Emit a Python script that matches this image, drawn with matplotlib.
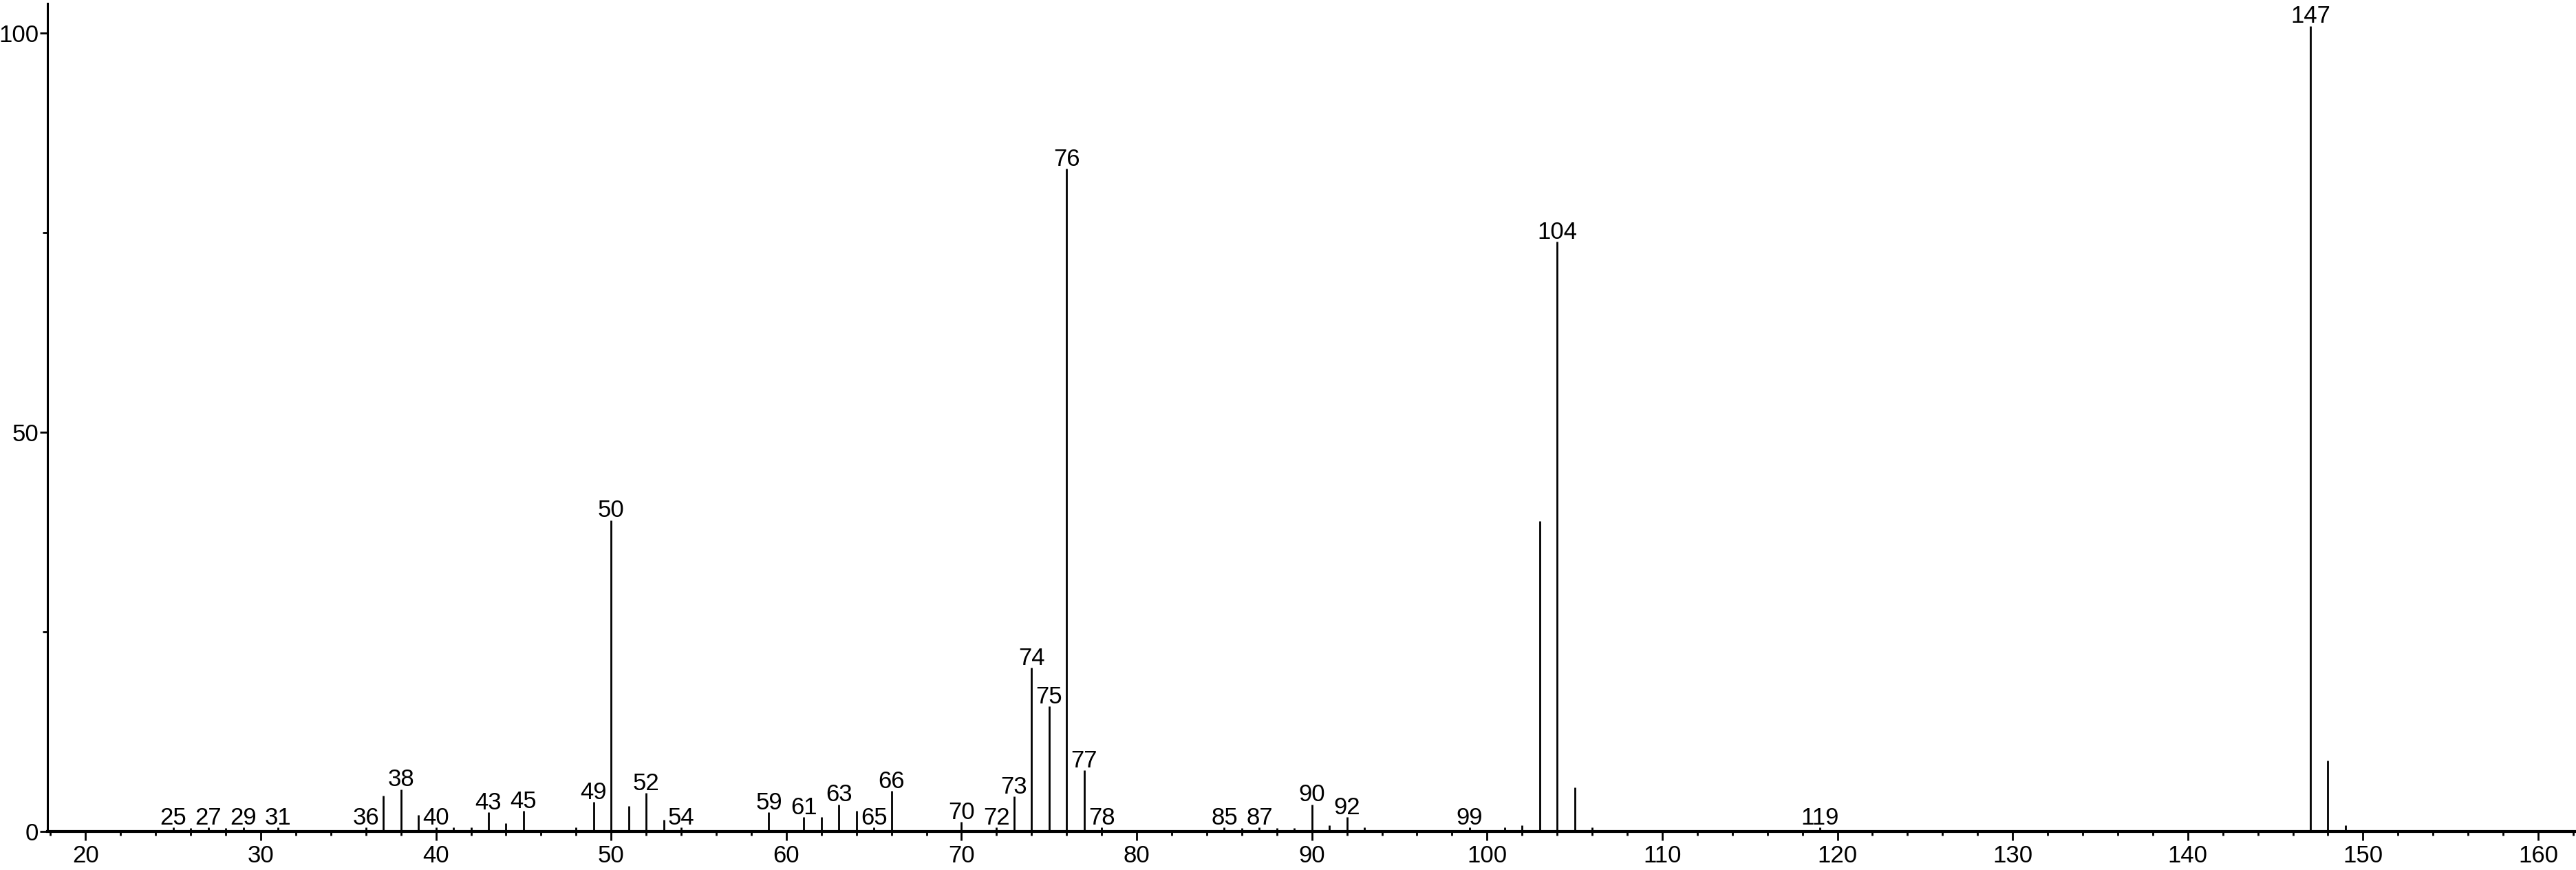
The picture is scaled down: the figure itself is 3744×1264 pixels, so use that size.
import matplotlib
matplotlib.use("Agg")
import matplotlib.pyplot as plt
from matplotlib.ticker import MultipleLocator, FixedLocator

plt.rcParams['font.family'] = ['Liberation Sans', 'DejaVu Sans']

# m/z values and relative intensities
mz = [25, 26, 27, 28, 29, 31, 36, 37, 38, 39, 40, 41, 42, 43, 44, 45, 48, 49, 50, 51,
      52, 53, 54, 59, 61, 62, 63, 64, 65, 66, 70, 72, 73, 74, 75, 76, 77, 78, 85, 86,
      87, 88, 89, 90, 91, 92, 93, 99, 101, 102, 103, 104, 105, 106, 119, 147, 148, 149]
intensity = [0.5, 0.4, 0.5, 0.4, 0.5, 0.5, 0.5, 4.5, 5.3, 2.1, 0.5, 0.5, 0.5, 2.4, 1.0, 2.6, 0.5, 3.7, 39.0, 3.2,
             4.8, 1.5, 0.5, 2.4, 1.8, 1.8, 3.4, 2.6, 0.5, 5.1, 1.2, 0.5, 4.4, 20.5, 15.7, 83.0, 7.7, 0.5, 0.5, 0.4,
             0.5, 0.4, 0.4, 3.4, 0.8, 1.8, 0.5, 0.5, 0.5, 0.8, 38.9, 73.9, 5.5, 0.5, 0.5, 100.9, 8.9, 0.8]

# peaks that carry an m/z label
labeled = [25, 27, 29, 31, 36, 38, 40, 43, 45, 49, 50, 52, 54, 59, 61, 63, 65, 66, 70, 72,
           73, 74, 75, 76, 77, 78, 85, 87, 90, 92, 99, 104, 119, 147]

fig = plt.figure(figsize=(37.44, 12.64), dpi=100)
ax = fig.add_axes([0.0184, 0.0443, 0.9816, 0.9517])

ax.vlines(mz, 0, intensity, colors='black', linewidth=2.0, clip_on=False)

for m, h in zip(mz, intensity):
    if m in labeled:
        ax.annotate(str(m), (m, h), xytext=(0, 3), textcoords='offset points',
                    ha='center', va='baseline', fontsize=25, annotation_clip=False)

ax.set_xlim(17.82, 162.16)
ax.set_ylim(0, 103.7)

ax.xaxis.set_major_locator(MultipleLocator(10))
ax.xaxis.set_minor_locator(MultipleLocator(2))
ax.yaxis.set_major_locator(FixedLocator([0, 50, 100]))
ax.yaxis.set_minor_locator(FixedLocator([25, 75]))

ax.tick_params(axis='x', which='major', length=9, width=2, labelsize=25, pad=5, direction='out')
ax.tick_params(axis='x', which='minor', length=4.5, width=2, direction='out')
ax.tick_params(axis='y', which='major', length=8, width=2, labelsize=25, pad=1, direction='out')
ax.tick_params(axis='y', which='minor', length=5, width=2, direction='out')

ax.spines['top'].set_visible(False)
ax.spines['right'].set_visible(False)
ax.spines['bottom'].set_linewidth(3)
ax.spines['left'].set_linewidth(2.2)

fig.savefig('out.png', dpi=100)
